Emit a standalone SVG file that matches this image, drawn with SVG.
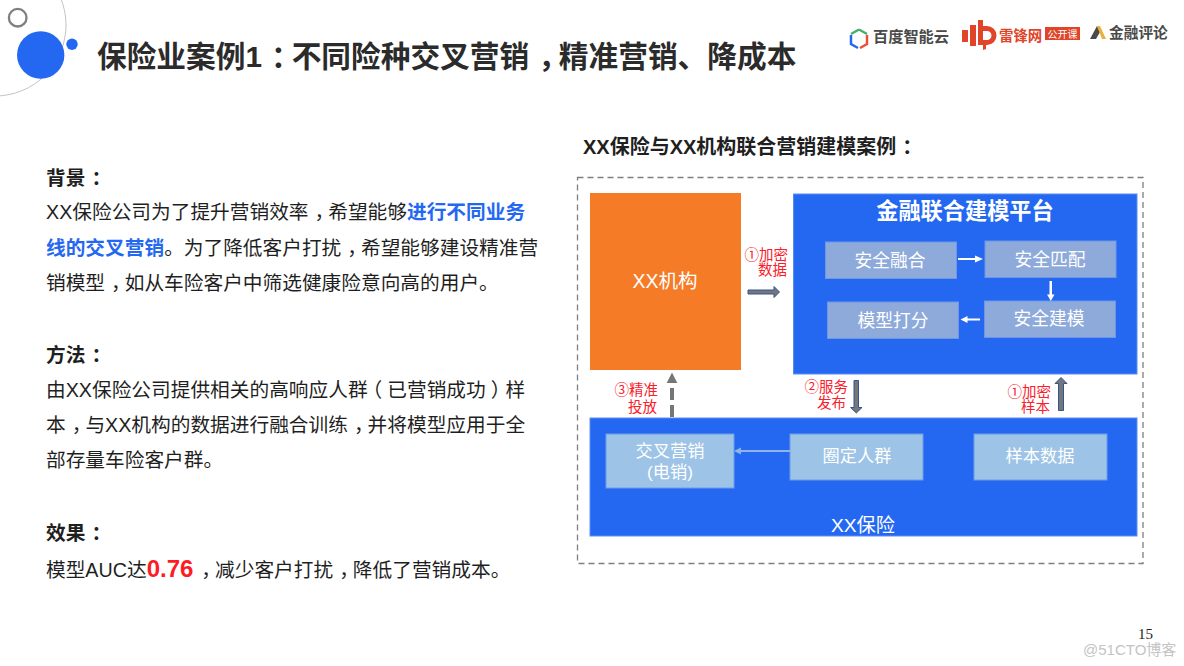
<svg xmlns="http://www.w3.org/2000/svg" width="1184" height="666" viewBox="0 0 1184 666">
<style>
text{font-family:"Liberation Sans","Noto Sans CJK SC",sans-serif}
.body{font-size:19.7px;fill:#1f1f1f}
.b{font-weight:700}
.blue{fill:#2468f2;font-weight:700}
.w{fill:#fff;font-size:17.8px;text-anchor:middle}
.w2{fill:#fff;font-size:17.2px;text-anchor:middle}
.r{fill:#f9202c;font-size:14.5px;text-anchor:end}
.s1{fill:#8eaadb;stroke:#6f96e6;stroke-width:1}
.s2{fill:#9dc3e6;stroke:#6f9be8;stroke-width:1}
.pan{fill:#2468f2;stroke:#5c8ef0;stroke-width:1}
.bl{fill:#767676;stroke:#2f5597;stroke-width:1}
.wa{fill:#fff}
.p{letter-spacing:-6px}
.tp{letter-spacing:-9px}
.nar{letter-spacing:-5px}
.wid{letter-spacing:5px}
</style>
<rect width="1184" height="666" fill="#fff"/>
<g id="decor">
<circle cx="-5" cy="25" r="71" fill="none" stroke="#c4c4c4" stroke-width="1"/>
<circle cx="17.700" cy="17.700" r="8.800" fill="#fff" stroke="#7f7f7f" stroke-width="2.300"/>
<circle cx="40.700" cy="55" r="23.700" fill="#2468f2"/>
<circle cx="72" cy="44.300" r="5.700" fill="#2468f2"/>
</g>
<text id="title" x="97" y="67" font-size="29.700" font-weight="700" fill="#2b2b2b">保险业案例1<tspan class="tp" dx="9">：</tspan>不同险种交叉营销<tspan class="tp" dx="9">，</tspan>精准营销、降成本</text>
<g id="logos">
<path d="M859 29.500l8 4.500M859 29.500l-8 4.500" stroke="#46b06a" stroke-width="2.500" fill="none"/>
<path d="M851 35v9l7 4" stroke="#2468f2" stroke-width="2.500" fill="none"/>
<path d="M867 35v9l-7 4" stroke="#e8503a" stroke-width="2.500" fill="none"/>
<text x="873" y="42" font-size="15.200" font-weight="700" fill="#4a4a4a">百度智能云</text>
<g fill="#e0452a">
<rect x="962" y="30" width="6" height="12"/><rect x="970" y="25" width="6" height="21"/>
<path d="M978 20h5v6h4a9.500 9.500 0 0 1 0 19h-1v4l-3 1v-5h-5zM983 31v9h4a4.500 4.500 0 0 0 0-9z"/>
<rect x="1045" y="27" width="35" height="13"/>
</g>
<text x="999" y="40.500" font-size="14.400" font-weight="700" fill="#e0452a">雷锋网</text>
<text x="1062.500" y="37.500" font-size="10" fill="#fff" text-anchor="middle">公开课</text>
<path d="M1090 39l7-13 3 6-4 7z" fill="#4a4a4a"/><path d="M1097 26l3 0 6 13h-4z" fill="#e8b23a"/>
<text x="1109" y="37.500" font-size="14.700" font-weight="700" fill="#4a4a4a">金融评论</text>
</g>
<g id="left-text">
<text class="body b" x="46" y="185">背景<tspan dx="6">：</tspan></text>
<text class="body" x="46" y="219">XX保险公司为了提升营销效率<tspan class="p" dx="6">，</tspan>希望能够<tspan class="blue">进行不同业务</tspan></text>
<text class="body" x="46" y="255"><tspan class="blue">线的交叉营销</tspan>。为了降低客户打扰<tspan class="p" dx="6">，</tspan>希望能够建设精准营</text>
<text class="body" x="46" y="290">销模型<tspan class="p" dx="6">，</tspan>如从车险客户中筛选健康险意向高的用户。</text>
<text class="body b" x="46" y="362">方法<tspan dx="6">：</tspan></text>
<text class="body" x="46" y="397">由XX保险公司提供相关的高响应人<tspan class="nar">群</tspan><tspan class="wid">（</tspan>已营销成功<tspan class="nar" dx="5">）</tspan>样</text>
<text class="body" x="46" y="432">本<tspan class="p" dx="6">，</tspan>与XX机构的数据进行融合训练<tspan class="p" dx="6">，</tspan>并将模型应用于全</text>
<text class="body" x="46" y="467">部存量车险客户群。</text>
<text class="body b" x="46" y="540">效果<tspan dx="6">：</tspan></text>
<text class="body" x="46" y="577">模型AUC达<tspan font-size="24" font-weight="700" fill="#fb1c24">0.76</tspan><tspan class="p" dx="8">，</tspan>减少客户打扰<tspan class="p" dx="6">，</tspan>降低了营销成本。</text>
</g>
<text id="diagram-title" x="583" y="154" font-size="20" font-weight="700" fill="#1f1f1f">XX保险与XX机构联合营销建模案例<tspan dx="6">：</tspan></text>
<rect id="frame" x="577.500" y="177.500" width="565.500" height="386" fill="none" stroke="#7f7f7f" stroke-width="1.300" stroke-dasharray="6 4"/>
<g id="xx-org"><rect x="590" y="193" width="151" height="177" fill="#f57b26"/><text x="665" y="288" font-size="19.500" fill="#fff" text-anchor="middle">XX机构</text></g>
<g id="platform"><rect class="pan" x="793.500" y="194" width="343.500" height="180"/><text x="965" y="219" text-anchor="middle" font-size="22.200" font-weight="700" fill="#fff">金融联合建模平台</text></g>
<g id="n-rh"><rect class="s1" x="825.500" y="242" width="131" height="36.500"/><text class="w" x="890" y="267">安全融合</text></g>
<g id="n-pp"><rect class="s1" x="985" y="241" width="131" height="36.500"/><text class="w" x="1050" y="266">安全匹配</text></g>
<g id="n-jm"><rect class="s1" x="984.500" y="301" width="131" height="36.500"/><text class="w" x="1049" y="325">安全建模</text></g>
<g id="n-df"><rect class="s1" x="827.500" y="302" width="131" height="36.500"/><text class="w" x="893" y="327">模型打分</text></g>
<g id="insurer"><rect class="pan" x="590" y="418" width="547" height="118"/><text x="863" y="532" font-size="19.200" fill="#fff" text-anchor="middle">XX保险</text></g>
<g id="n-jc"><rect class="s2" x="606" y="434" width="128" height="54"/><text class="w2" x="670" y="457">交叉营销</text><text class="w2" x="670" y="478">(电销)</text></g>
<g id="n-qd"><rect class="s2" x="790" y="434" width="133" height="46"/><text class="w2" x="857" y="462">圈定人群</text></g>
<g id="n-yb"><rect class="s2" x="974" y="434" width="133" height="46"/><text class="w2" x="1040" y="462">样本数据</text></g>
<g id="connectors">
<path class="wa" d="M958 258h17v-2.500l8 3.500-8 3.500v-2.500h-17z"/>
<path class="wa" d="M1049.500 281h2.500v13.500h2.500l-3.700 6.500-3.700-6.500h2.400z"/>
<path class="wa" d="M980 318.500h-12.500v-2.500l-7 3.500 7 3.500v-2.500h12.500z"/>
<path d="M741 451h50" stroke="#8eb4e8" stroke-width="2.200" fill="none"/><path d="M734 451l7-3.500v7z" fill="#8eb4e8"/>
<path class="bl" d="M748 290h26v-3.500l5.500 5.500-5.500 5.500v-3.500h-26z"/>
<path class="bl" d="M854 380.500h4.500v27h3.500l-5.700 5.500-5.700-5.500h3.400z"/>
<path class="bl" d="M1058.500 410.500h5v-27h3.500l-6-6-6 6h3.500z"/>
<path d="M672 417v-30" stroke="#767676" stroke-width="4" stroke-dasharray="12 5" fill="none"/>
<path d="M666.700 383l5.300-10.500 5.300 10.500z" fill="#767676"/>
</g>
<g id="labels">
<text class="r" x="788" y="260">①加密</text><text class="r" x="787" y="275">数据</text>
<text class="r" x="658" y="395">③精准</text><text class="r" x="657" y="412">投放</text>
<text class="r" x="848" y="392">②服务</text><text class="r" x="846" y="408">发布</text>
<text class="r" x="1051" y="397">①加密</text><text class="r" x="1050" y="412">样本</text>
</g>
<text id="page" x="1138" y="639" font-size="15" fill="#262626" style="font-family:'Liberation Serif',serif">15</text>
<text id="watermark" x="1083" y="655" font-size="15" fill="#c4c4c4">@51CTO博客</text>
</svg>
